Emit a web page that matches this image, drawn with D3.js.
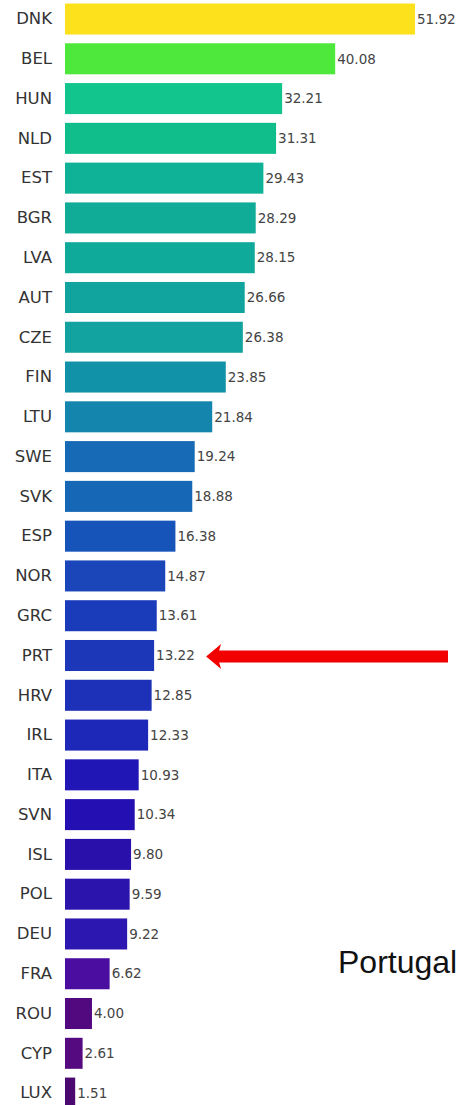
<!DOCTYPE html>
<html>
<head>
<meta charset="utf-8">
<script src="https://cdn.jsdelivr.net/npm/d3@7"></script>
<style>
  html, body { margin: 0; padding: 0; background: #fff; }
  svg { display: block; }
</style>
</head>
<body>
<svg id="chart" width="464" height="1105"></svg>
<script>
const categories = ["DNK","BEL","HUN","NLD","EST","BGR","LVA","AUT","CZE","FIN","LTU","SWE","SVK","ESP","NOR","GRC","PRT","HRV","IRL","ITA","SVN","ISL","POL","DEU","FRA","ROU","CYP","LUX"];
const values = [51.92,40.08,32.21,31.31,29.43,28.29,28.15,26.66,26.38,23.85,21.84,19.24,18.88,16.38,14.87,13.61,13.22,12.85,12.33,10.93,10.34,9.80,9.59,9.22,6.62,4.00,2.61,1.51];
const barColors = ["#FDE11C","#4DE83B","#12C58C","#10BE8C","#0FB296","#10AC98","#10AA9A","#11A49E","#12A2A0","#1292A8","#1486AE","#166AB6","#1668B6","#1754BA","#1A46BA","#1B3CBA","#1C38B8","#1C30B8","#1D28B8","#2016B5","#2410B2","#2A10AA","#2A14AC","#2C18B0","#4A0DA0","#52087E","#550A80","#4A0870"];
const highlight = "PRT";
const annotation = "Portugal";

const svg = d3.select("#chart");

const x = d3.scaleLinear().domain([0, 51.92]).range([65, 415]);
const y = d3.scaleBand().domain(categories).range([3.5, 1108.6]).paddingInner(0.22).paddingOuter(0);

const data = categories.map((c, i) => ({c, v: values[i], col: barColors[i]}));

svg.append("g").selectAll("rect").data(data).join("rect")
  .attr("x", x(0))
  .attr("y", d => y(d.c))
  .attr("width", d => x(d.v) - x(0))
  .attr("height", y.bandwidth())
  .attr("fill", d => d.col);

// category axis labels
const yAxis = d3.axisLeft(y).tickSize(0).tickPadding(13);
const ga = svg.append("g").attr("transform", `translate(${x(0)},0)`).call(yAxis);
ga.select(".domain").remove();
ga.selectAll("text")
  .attr("font-family", "DejaVu Sans, sans-serif")
  .attr("font-size", 16.5)
  .attr("fill", "#333");

// value labels
svg.append("g").selectAll("text").data(data).join("text")
  .attr("x", d => x(d.v) + 2)
  .attr("y", d => y(d.c) + y.bandwidth() / 2)
  .attr("dy", "0.35em")
  .attr("font-family", "DejaVu Sans, sans-serif")
  .attr("font-size", 13.5)
  .attr("fill", "#444")
  .text(d => d.v.toFixed(2));

// arrow pointing to highlighted bar
const hv = values[categories.indexOf(highlight)];
const ay = y(highlight) + y.bandwidth() / 2 + 1;
const tipX = x(hv) + 52;
const endX = 448;
const headLen = 15, headHalf = 12.5, shaftHalf = 6;
const arrowPath = d3.path();
arrowPath.moveTo(tipX, ay);
arrowPath.lineTo(tipX + headLen, ay - headHalf);
arrowPath.lineTo(tipX + headLen - 2, ay - shaftHalf);
arrowPath.lineTo(endX, ay - shaftHalf);
arrowPath.lineTo(endX, ay + shaftHalf);
arrowPath.lineTo(tipX + headLen - 2, ay + shaftHalf);
arrowPath.lineTo(tipX + headLen, ay + headHalf);
arrowPath.closePath();
svg.append("path").attr("d", arrowPath.toString()).attr("fill", "#F20000");

svg.append("text")
  .attr("x", 338)
  .attr("y", 973)
  .attr("font-family", "Liberation Sans, Arial, sans-serif")
  .attr("font-size", 32)
  .attr("fill", "#111")
  .text(annotation);
</script>
</body>
</html>
